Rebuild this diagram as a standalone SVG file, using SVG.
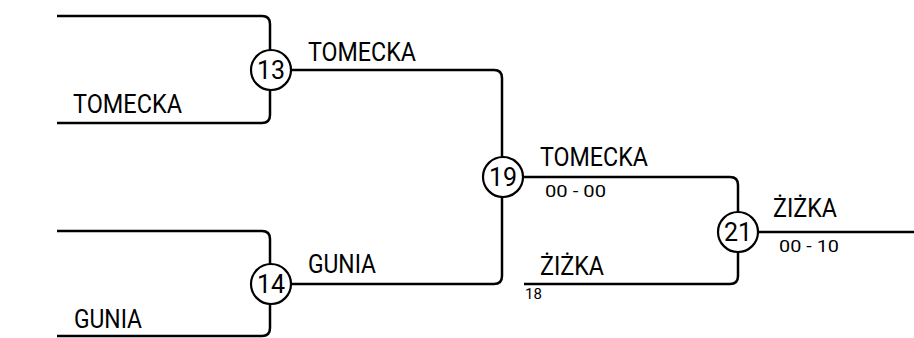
<svg xmlns="http://www.w3.org/2000/svg" width="914" height="338" viewBox="0 0 914 338">
<style>
.ln{fill:none;stroke:#000;stroke-width:2.5}
.c{fill:#fff;stroke:#000;stroke-width:2.2}
.nm{font-family:Roboto,"Liberation Sans",sans-serif;font-size:26px;fill:#000}
.num{font-family:Roboto,"Liberation Sans",sans-serif;font-size:25px;fill:#000;text-anchor:middle}
.sc{font-family:Roboto,"Liberation Sans",sans-serif;font-size:17px;fill:#000}
.sm{font-family:Roboto,"Liberation Sans",sans-serif;font-size:15px;fill:#000}
</style>
<rect width="914" height="338" fill="#fff"/>
<g id="connectors">
<path class="ln" d="M57,16 H262 Q270,16 270,24 V115 Q270,123 262,123 H57"/>
<path class="ln" d="M57,231 H262 Q270,231 270,239 V328 Q270,336 262,336 H57"/>
<path class="ln" d="M270,70 H494 Q502,70 502,78 V276 Q502,284 494,284 H270"/>
<path class="ln" d="M502,177 H730 Q738,177 738,185 V276 Q738,284 730,284 H524"/>
<path class="ln" d="M738,232 H914"/>
</g>
<g id="labels">
<text class="nm" x="73" y="113" textLength="109" lengthAdjust="spacingAndGlyphs">TOMECKA</text>
<text class="nm" x="74" y="328" textLength="68" lengthAdjust="spacingAndGlyphs">GUNIA</text>
<text class="nm" x="308" y="61" textLength="108" lengthAdjust="spacingAndGlyphs">TOMECKA</text>
<text class="nm" x="308" y="273" textLength="68" lengthAdjust="spacingAndGlyphs">GUNIA</text>
<text class="nm" x="540" y="166" textLength="108" lengthAdjust="spacingAndGlyphs">TOMECKA</text>
<text class="sc" x="545" y="197" textLength="61" lengthAdjust="spacingAndGlyphs">00 - 00</text>
<text class="nm" x="540" y="275" textLength="64" lengthAdjust="spacingAndGlyphs">ŻIŻKA</text>
<text class="sm" x="525" y="299">18</text>
<text class="nm" x="773" y="217" textLength="64" lengthAdjust="spacingAndGlyphs">ŻIŻKA</text>
<text class="sc" x="779" y="252" textLength="60" lengthAdjust="spacingAndGlyphs">00 - 10</text>
</g>
<g id="node13"><circle class="c" cx="271" cy="70" r="20"/><text class="num" x="271" y="79">13</text></g>
<g id="node14"><circle class="c" cx="271" cy="284" r="20"/><text class="num" x="271" y="293">14</text></g>
<g id="node19"><circle class="c" cx="503" cy="177" r="20"/><text class="num" x="503" y="186">19</text></g>
<g id="node21"><circle class="c" cx="738" cy="232" r="20"/><text class="num" x="738" y="241">21</text></g>
</svg>
